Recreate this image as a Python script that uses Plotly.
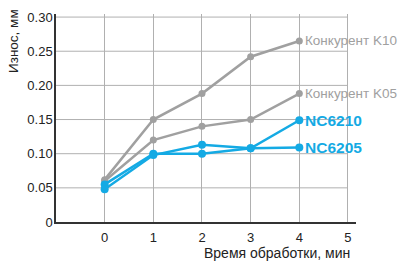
import plotly.graph_objects as go

minutes = [0, 1, 2, 3, 4]
k10 = [0.062, 0.150, 0.188, 0.242, 0.265]
k05 = [0.060, 0.120, 0.140, 0.150, 0.188]
nc6210 = [0.055, 0.100, 0.100, 0.108, 0.149]
nc6205 = [0.048, 0.098, 0.113, 0.108, 0.109]

x_ticks = [0, 1, 2, 3, 4, 5]
y_ticks = [0, 0.05, 0.10, 0.15, 0.20, 0.25, 0.30]
y_tick_text = ["0", "0.05", "0.10", "0.15", "0.20", "0.25", "0.30"]

GRAY = "#a0a0a0"
BLUE = "#14aae4"
series = [
    ("Конкурент K10", k10, GRAY, False),
    ("Конкурент K05", k05, GRAY, False),
    ("NC6210", nc6210, BLUE, True),
    ("NC6205", nc6205, BLUE, True),
]

PL, PR, PT, PB = 56, 356, 14, 222
W, H = 402, 261
PW, PH = PR - PL, PB - PT

fig = go.Figure()
for name, vals, color, bold in series:
    fig.add_trace(go.Scatter(
        x=minutes, y=vals, mode="lines+markers", name=name,
        line=dict(color=color, width=2.5),
        marker=dict(color=color, size=8 if bold else 7),
        cliponaxis=False,
    ))
    fig.add_annotation(
        x=minutes[-1], y=vals[-1], xref="x", yref="y",
        text=f"<b>{name}</b>" if bold else name,
        showarrow=False, xanchor="left", xshift=4,
        font=dict(family="Liberation Sans", size=15.5 if bold else 13.5, color=color),
    )

shapes = []
for yv in y_ticks[1:]:
    shapes.append(dict(type="line", xref="x", yref="y", x0=-1, x1=5, y0=yv, y1=yv,
                       line=dict(color="#b0b0b0", width=1), layer="below"))

fig.update_layout(
    width=W, height=H,
    margin=dict(l=PL, r=W - PR, t=PT, b=H - PB, autoexpand=False),
    paper_bgcolor="white", plot_bgcolor="white",
    showlegend=False,
    shapes=shapes,
    font=dict(family="Liberation Sans", size=13, color="#222"),
    xaxis=dict(range=[-1, 5.165], tickvals=x_ticks, showgrid=True,
               gridcolor="#b0b0b0", gridwidth=1, showline=True, linecolor="#333",
               linewidth=1.5, zeroline=False, ticks="", ticklen=0,
               ticklabelstandoff=3, automargin=False,
               tickfont=dict(size=13, color="#222")),
    yaxis=dict(range=[0, 0.3045], tickvals=y_ticks, ticktext=y_tick_text,
               showgrid=False, showline=True, linecolor="#333", linewidth=1.5,
               zeroline=False, ticks="", ticklabelstandoff=-1, automargin=False,
               tickfont=dict(size=13, color="#222")),
)

fig.add_annotation(xref="paper", yref="paper",
                   x=(277 - PL) / PW, y=-(253 - PB) / PH,
                   xanchor="center", yanchor="middle", showarrow=False,
                   text="Время обработки, мин",
                   font=dict(family="Liberation Sans", size=14, color="#222"))
fig.add_annotation(xref="paper", yref="paper",
                   x=(13 - PL) / PW, y=(PB - 41) / PH,
                   xanchor="center", yanchor="middle", showarrow=False, textangle=-90,
                   text="Износ, мм",
                   font=dict(family="Liberation Sans", size=13.5, color="#222"))

fig.write_html(
    "out.html",
    config={"displayModeBar": False},
    post_script="document.body.style.margin='0';document.body.style.overflow='hidden';",
)
